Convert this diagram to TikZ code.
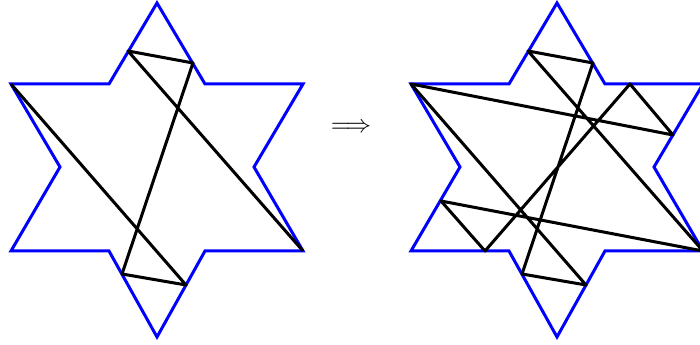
\documentclass[tikz,border=0pt]{standalone}
\usepackage{amsmath, amssymb}
\usepackage{tikz}

\begin{document}
\begin{tikzpicture}[x=0.014cm, y=-0.014cm,
    etoile/.style={blue, line width=1.2pt, line join=miter},
    trajet/.style={black, line width=1.2pt, line join=round}]
  \useasboundingbox (0,0) rectangle (700,345);
  \clip (0,0) rectangle (700,345);

  % Étoiles (la seconde décalée de 400)
  \foreach \dx/\k in {0/L, 400/R} {
    \draw[etoile] (\dx+157,3) -- (\dx+205,84) -- (\dx+303,84) -- (\dx+254,167)
      -- (\dx+303,251) -- (\dx+205,251) -- (\dx+157,337) -- (\dx+109,251)
      -- (\dx+11,251) -- (\dx+60,167) -- (\dx+11,84) -- (\dx+109,84) -- cycle;
    % Points de rebond sur le bord
    \coordinate (a\k) at (\dx+11,84);
    \coordinate (b\k) at (\dx+186,285);
    \coordinate (c\k) at (\dx+122,274);
    \coordinate (d\k) at (\dx+193,63);
    \coordinate (e\k) at (\dx+128,51);
    \coordinate (f\k) at (\dx+303,251);
    \coordinate (g\k) at (\dx+273,135);
    \coordinate (h\k) at (\dx+230,84);
    \coordinate (i\k) at (\dx+85,251);
    \coordinate (j\k) at (\dx+41,201);
  }

  % Trajet ouvert (gauche)
  \draw[trajet] (aL) -- (bL) -- (cL) -- (dL) -- (eL) -- (fL);

  % Trajet fermé (droite)
  \draw[trajet] (aR) -- (gR) -- (hR) -- (iR) -- (jR) -- (fR)
    -- (eR) -- (dR) -- (cR) -- (bR) -- cycle;

  % Implication
  \node (fleche) at (351,128) {$\Longrightarrow$};
\end{tikzpicture}
\end{document}
